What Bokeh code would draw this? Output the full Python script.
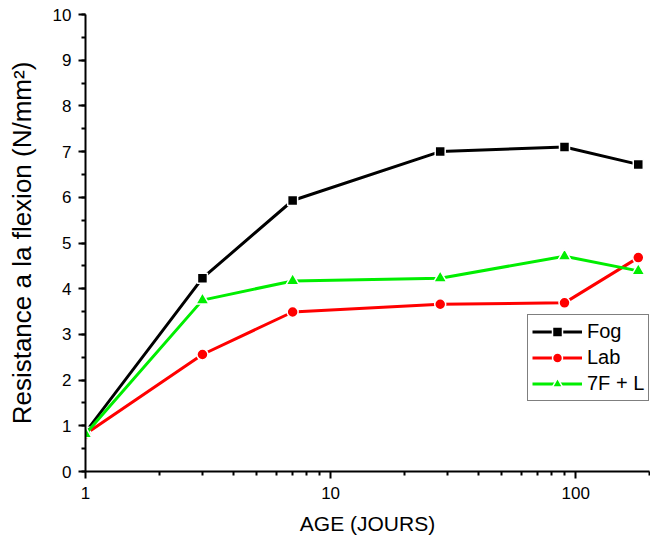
from bokeh.plotting import figure
from bokeh.models import (Range1d, FixedTicker, SingleIntervalTicker, NumeralTickFormatter,
                          Legend, LegendItem)
from bokeh.embed import file_html
from bokeh.resources import INLINE

# Data
age = [1, 3, 7, 28, 90, 180]
fog = [0.86, 4.23, 5.93, 7.0, 7.1, 6.72]
lab = [0.82, 2.56, 3.49, 3.66, 3.69, 4.68]
f7l = [0.82, 3.75, 4.17, 4.23, 4.71, 4.39]
x_major = [1, 10, 100]
x_minor = [2, 3, 4, 5, 6, 7, 8, 9, 20, 30, 40, 50, 60, 70, 80, 90, 200]

FONT = "Liberation Sans"

p = figure(width=650, height=537, x_axis_type="log", output_backend="svg",
           toolbar_location=None, min_border_left=85, min_border_right=1,
           min_border_top=14, min_border_bottom=64)
p.x_range = Range1d(1, 200)
p.y_range = Range1d(0, 10)
p.outline_line_color = None
p.xgrid.visible = False
p.ygrid.visible = False

series = [("Fog", fog, "black", "square", 10),
          ("Lab", lab, "red", "circle", 11),
          ("7F + L", f7l, "#00ee00", "triangle", 13)]
items = []
for name, ys, col, mk, sz in series:
    l = p.line(age, ys, line_color=col, line_width=3)
    s = p.scatter(age, ys, marker=mk, size=sz, fill_color=col, line_color="white",
                  line_width=1.5)
    items.append(LegendItem(label=name, renderers=[l, s]))

legend = Legend(items=items, location=(442, 70))
legend.border_line_color = "black"
legend.border_line_width = 1
legend.background_fill_color = "white"
legend.label_text_font = FONT
legend.label_text_font_size = "20px"
legend.label_text_color = "black"
legend.glyph_width = 50
legend.glyph_height = 25
legend.label_standoff = 5
legend.spacing = 1
legend.padding = 4
legend.margin = 0
p.add_layout(legend, "center")

xa = p.xaxis[0]
xa.ticker = FixedTicker(ticks=x_major, minor_ticks=x_minor)
xa.formatter = NumeralTickFormatter(format="0")
xa.axis_label = "AGE (JOURS)"

ya = p.yaxis[0]
ya.ticker = SingleIntervalTicker(interval=1, num_minor_ticks=2)
ya.axis_label = "Resistance a la flexion (N/mm²)"

for ax in (xa, ya):
    ax.axis_line_width = 2
    ax.axis_line_color = "black"
    ax.major_tick_line_width = 2
    ax.minor_tick_line_width = 2
    ax.major_tick_line_color = "black"
    ax.minor_tick_line_color = "black"
    ax.major_tick_out = 7
    ax.major_tick_in = 0
    ax.minor_tick_out = 4
    ax.minor_tick_in = 0
    ax.major_label_text_font = FONT
    ax.major_label_text_font_size = "17px"
    ax.major_label_text_color = "black"
    ax.axis_label_text_font = FONT
    ax.axis_label_text_font_style = "normal"
    ax.axis_label_text_color = "black"

xa.axis_label_text_font_size = "21px"
xa.major_label_standoff = 8
xa.axis_label_standoff = 10
ya.axis_label_text_font_size = "26px"
ya.major_label_standoff = 7
ya.axis_label_standoff = 13

open("out.html", "w").write(file_html(p, INLINE))
